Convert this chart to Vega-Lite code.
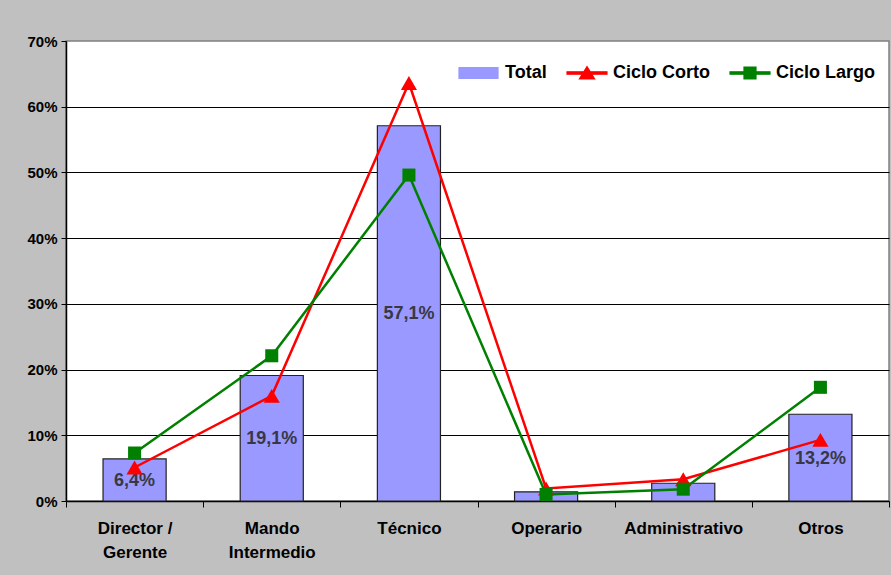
{
  "$schema": "https://vega.github.io/schema/vega-lite/v6.json",
  "width": 823,
  "height": 460,
  "autosize": {"type": "none"},
  "padding": {"left": 66, "top": 41, "right": 2, "bottom": 74},
  "background": "#C0C0C0",
  "config": {
    "font": "Liberation Sans",
    "view": {"fill": "white", "stroke": "#808080", "strokeWidth": 1.5}
  },
  "data": {
    "values": [
      {"Categoria": "Director / Gerente", "Total": 0.064, "Ciclo Corto": 0.051, "Ciclo Largo": 0.073, "label": "6,4%"},
      {"Categoria": "Mando Intermedio", "Total": 0.191, "Ciclo Corto": 0.160, "Ciclo Largo": 0.221, "label": "19,1%"},
      {"Categoria": "Técnico", "Total": 0.571, "Ciclo Corto": 0.636, "Ciclo Largo": 0.496, "label": "57,1%"},
      {"Categoria": "Operario", "Total": 0.014, "Ciclo Corto": 0.019, "Ciclo Largo": 0.010, "label": ""},
      {"Categoria": "Administrativo", "Total": 0.027, "Ciclo Corto": 0.033, "Ciclo Largo": 0.018, "label": ""},
      {"Categoria": "Otros", "Total": 0.132, "Ciclo Corto": 0.093, "Ciclo Largo": 0.173, "label": "13,2%"}
    ]
  },
  "encoding": {
    "x": {
      "field": "Categoria",
      "type": "nominal",
      "sort": null,
      "scale": {"paddingInner": 0, "paddingOuter": 0},
      "axis": {
        "title": null,
        "labelAngle": 0,
        "labelFont": "Liberation Sans",
        "labelFontSize": 17,
        "labelFontWeight": "bold",
        "labelColor": "black",
        "labelPadding": 13,
        "labelLineHeight": 24,
        "labelExpr": "datum.value == 'Director / Gerente' ? ['Director /', 'Gerente'] : datum.value == 'Mando Intermedio' ? ['Mando', 'Intermedio'] : datum.value",
        "tickBand": "extent",
        "tickColor": "black",
        "tickSize": 6,
        "domainColor": "black",
        "domainWidth": 1.5,
        "grid": false
      }
    }
  },
  "layer": [
    {
      "mark": {"type": "bar", "width": {"band": 0.46}, "stroke": "#222222", "strokeWidth": 1.2},
      "encoding": {
        "y": {
          "field": "Total",
          "type": "quantitative",
          "scale": {"domain": [0, 0.7]},
          "axis": {
            "title": null,
            "format": ".0%",
            "values": [0, 0.1, 0.2, 0.3, 0.4, 0.5, 0.6, 0.7],
            "labelFont": "Liberation Sans",
            "labelFontSize": 15,
            "labelFontWeight": "bold",
            "labelColor": "black",
            "labelPadding": 4,
            "tickColor": "black",
            "tickSize": 5,
            "domainColor": "black",
            "domainWidth": 1.5,
            "grid": true,
            "gridColor": "black",
            "gridWidth": 1,
            "gridOpacity": {"condition": {"test": "datum.value >= 0.69 || datum.value <= 0.001", "value": 0}, "value": 1}
          }
        },
        "color": {
          "datum": "Total",
          "type": "nominal",
          "scale": {"domain": ["Total", "Ciclo Corto", "Ciclo Largo"], "range": ["#9999FF", "#FF0000", "#008000"]},
          "legend": {
            "title": null,
            "orient": "none",
            "legendX": 392,
            "legendY": 11,
            "direction": "horizontal",
            "labelFont": "Liberation Sans",
            "labelFontSize": 18,
            "labelFontWeight": "bold",
            "labelColor": "black",
            "labelOffset": 5,
            "columnPadding": 17,
            "symbolSize": 1600,
            "symbolOpacity": 1,
            "encode": {
              "symbols": {
                "update": {
                  "shape": {"signal": "datum.value === 'Total' ? 'M-1,-0.27H0.95V0.27H-1Z' : datum.value === 'Ciclo Corto' ? 'M-1,-0.06H1V0.06H-1Z M0,-0.32L0.38,0.3L-0.38,0.3Z' : 'M-1,-0.06H1V0.06H-1Z M-0.3,-0.3H0.3V0.3H-0.3Z'"},
                  "fill": {"signal": "scale('color', datum.value)"},
                  "fillOpacity": {"value": 1},
                  "stroke": {"signal": "datum.value === 'Total' ? '#222222' : scale('color', datum.value)"},
                  "strokeOpacity": {"value": 1},
                  "strokeWidth": {"value": 1.2},
                  "opacity": {"value": 1}
                }
              }
            }
          }
        }
      }
    },
    {
      "transform": [{"calculate": "datum.Total / 2", "as": "mid"}],
      "mark": {"type": "text", "font": "Liberation Sans", "fontSize": 18, "fontWeight": "bold", "color": "#383844", "baseline": "middle", "align": "center", "dy": 1},
      "encoding": {
        "y": {"field": "mid", "type": "quantitative"},
        "text": {"field": "label"}
      }
    },
    {
      "transform": [{"fold": ["Ciclo Corto", "Ciclo Largo"], "as": ["serie", "valor"]}],
      "mark": {"type": "line", "strokeWidth": 2.5},
      "encoding": {
        "y": {"field": "valor", "type": "quantitative"},
        "color": {
          "field": "serie",
          "type": "nominal",
          "legend": {
            "title": null,
            "orient": "none",
            "legendX": 392,
            "legendY": 11,
            "direction": "horizontal",
            "labelFont": "Liberation Sans",
            "labelFontSize": 18,
            "labelFontWeight": "bold",
            "labelColor": "black",
            "labelOffset": 5,
            "columnPadding": 17,
            "symbolSize": 1600,
            "symbolOpacity": 1,
            "encode": {
              "symbols": {
                "update": {
                  "shape": {"signal": "datum.value === 'Total' ? 'M-1,-0.27H0.95V0.27H-1Z' : datum.value === 'Ciclo Corto' ? 'M-1,-0.06H1V0.06H-1Z M0,-0.32L0.38,0.3L-0.38,0.3Z' : 'M-1,-0.06H1V0.06H-1Z M-0.3,-0.3H0.3V0.3H-0.3Z'"},
                  "fill": {"signal": "scale('color', datum.value)"},
                  "fillOpacity": {"value": 1},
                  "stroke": {"signal": "datum.value === 'Total' ? '#222222' : scale('color', datum.value)"},
                  "strokeOpacity": {"value": 1},
                  "strokeWidth": {"value": 1.2},
                  "opacity": {"value": 1}
                }
              }
            }
          }
        },
        "detail": {"field": "serie"}
      }
    },
    {
      "transform": [{"fold": ["Ciclo Corto", "Ciclo Largo"], "as": ["serie", "valor"]}],
      "mark": {"type": "point", "filled": true, "opacity": 1},
      "encoding": {
        "y": {"field": "valor", "type": "quantitative"},
        "color": {
          "field": "serie",
          "type": "nominal",
          "legend": {
            "title": null,
            "orient": "none",
            "legendX": 392,
            "legendY": 11,
            "direction": "horizontal",
            "labelFont": "Liberation Sans",
            "labelFontSize": 18,
            "labelFontWeight": "bold",
            "labelColor": "black",
            "labelOffset": 5,
            "columnPadding": 17,
            "symbolSize": 1600,
            "symbolOpacity": 1,
            "encode": {
              "symbols": {
                "update": {
                  "shape": {"signal": "datum.value === 'Total' ? 'M-1,-0.27H0.95V0.27H-1Z' : datum.value === 'Ciclo Corto' ? 'M-1,-0.06H1V0.06H-1Z M0,-0.32L0.38,0.3L-0.38,0.3Z' : 'M-1,-0.06H1V0.06H-1Z M-0.3,-0.3H0.3V0.3H-0.3Z'"},
                  "fill": {"signal": "scale('color', datum.value)"},
                  "fillOpacity": {"value": 1},
                  "stroke": {"signal": "datum.value === 'Total' ? '#222222' : scale('color', datum.value)"},
                  "strokeOpacity": {"value": 1},
                  "strokeWidth": {"value": 1.2},
                  "opacity": {"value": 1}
                }
              }
            }
          }
        },
        "shape": {"field": "serie", "type": "nominal", "scale": {"domain": ["Ciclo Corto", "Ciclo Largo"], "range": ["triangle-up", "square"]}, "legend": null},
        "size": {"field": "serie", "type": "nominal", "scale": {"domain": ["Ciclo Corto", "Ciclo Largo"], "range": [260, 170]}, "legend": null}
      }
    }
  ],
  "resolve": {"scale": {"color": "shared"}}
}
